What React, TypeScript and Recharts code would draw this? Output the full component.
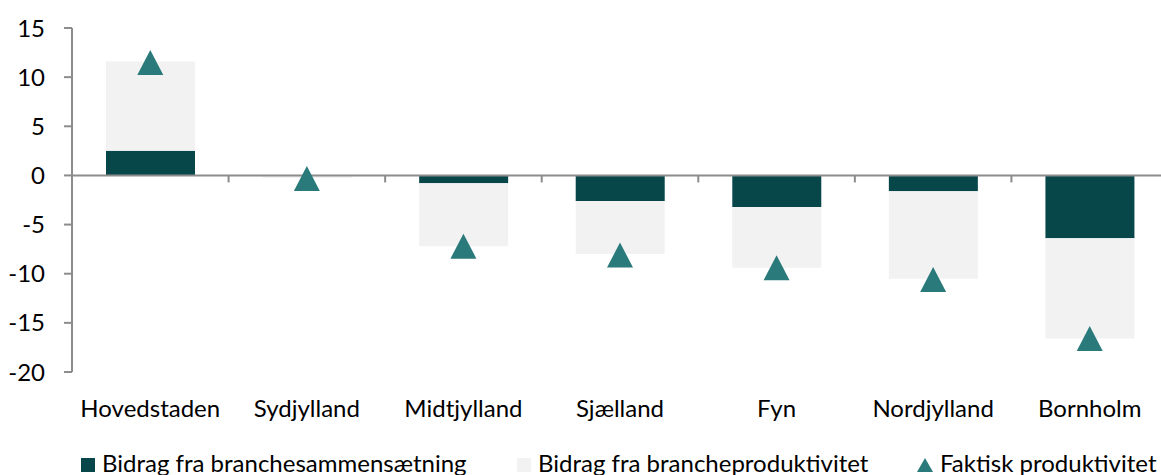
import React from "react";
import {
  Bar,
  ComposedChart,
  Legend,
  Line,
  ReferenceLine,
  XAxis,
  YAxis,
} from "recharts";

const regions = [
  "Hovedstaden",
  "Sydjylland",
  "Midtjylland",
  "Sjælland",
  "Fyn",
  "Nordjylland",
  "Bornholm",
];
const branchesammensaetning = [2.5, -0.05, -0.8, -2.6, -3.2, -1.6, -6.4];
const brancheproduktivitet = [9.1, -0.2, -6.4, -5.4, -6.2, -8.9, -10.2];
const faktisk = [11.5, -0.3, -7.2, -8.1, -9.4, -10.6, -16.6];
const yTicks = [-20, -15, -10, -5, 0, 5, 10, 15];

const seriesNames = {
  sam: "Bidrag fra branchesammensætning",
  prod: "Bidrag fra brancheproduktivitet",
  fak: "Faktisk produktivitet",
};

const DARK = "#07474a";
const LIGHT = "#f2f2f2";
const TEAL = "#2b7a7b";
const AXIS = "#8c8c8c";
const FONT = "Lato, 'Open Sans', sans-serif";

const data = regions.map((region, i) => ({
  region,
  sam: branchesammensaetning[i],
  prod: brancheproduktivitet[i],
  fak: faktisk[i],
}));

function TriangleDot(props: any) {
  const { cx, cy } = props;
  if (cx == null || cy == null) return null;
  const hw = 13;
  const hh = 12.5;
  return (
    <polygon
      key={`tri-${props.index}`}
      points={`${cx},${cy - hh} ${cx + hw},${cy + hh} ${cx - hw},${cy + hh}`}
      fill={TEAL}
    />
  );
}

function XTick(props: any) {
  const { x, y, payload } = props;
  return (
    <text
      x={x}
      y={y}
      dy={45}
      textAnchor="middle"
      fill="#000"
      fontSize={24}
      fontFamily={FONT}
    >
      {payload.value}
    </text>
  );
}

function ZeroLine(props: any) {
  const { x1, x2, y1 } = props;
  const step = (x2 - x1) / regions.length;
  const marks = regions.slice(1).map((_, i) => x1 + step * (i + 1));
  return (
    <g>
      <line x1={x1} x2={x2} y1={y1} y2={y1} stroke={AXIS} strokeWidth={2} />
      {marks.map((mx) => (
        <line key={mx} x1={mx} x2={mx} y1={y1} y2={y1 + 7} stroke={AXIS} strokeWidth={2} />
      ))}
    </g>
  );
}

function LegendContent() {
  const items = [
    { name: seriesNames.sam, left: 81, icon: <span style={{ display: "inline-block", width: 14, height: 14, background: DARK }} /> },
    { name: seriesNames.prod, left: 517, icon: <span style={{ display: "inline-block", width: 14, height: 14, background: LIGHT }} /> },
    {
      name: seriesNames.fak,
      left: 917,
      icon: (
        <svg width={16} height={14} style={{ display: "block" }}>
          <polygon points="8,0 16,14 0,14" fill={TEAL} />
        </svg>
      ),
    },
  ];
  return (
    <div style={{ position: "relative", height: 30, fontFamily: FONT, fontSize: 24, color: "#000" }}>
      {items.map((it) => (
        <div
          key={it.name}
          style={{ position: "absolute", left: it.left, top: 0, height: 30, lineHeight: "30px", display: "flex", alignItems: "center", whiteSpace: "nowrap" }}
        >
          <span style={{ marginRight: 7, marginTop: 4, display: "flex" }}>{it.icon}</span>
          <span>{it.name}</span>
        </div>
      ))}
    </div>
  );
}

export default function App() {
  return (
    <div style={{ position: "fixed", left: 0, top: 0, width: 1161, height: 475, overflow: "hidden", background: "#fff" }}>
      <ComposedChart
        width={1175}
        height={475}
        data={data}
        margin={{ top: 28, right: 7, left: 0, bottom: 0 }}
        barSize={89}
      >
        <XAxis
          dataKey="region"
          axisLine={false}
          tickLine={false}
          tick={<XTick />}
          tickMargin={0}
          tickSize={0}
          height={73}
          interval={0}
        />
        <YAxis
          domain={[-20, 15]}
          ticks={yTicks}
          width={72}
          axisLine={{ stroke: AXIS, strokeWidth: 2 }}
          tickLine={{ stroke: AXIS, strokeWidth: 2 }}
          tickSize={8}
          tickMargin={19}
          tick={{ fill: "#000", fontSize: 24, fontFamily: FONT }}
          interval={0}
        />
        <Legend
          verticalAlign="bottom"
          height={30}
          content={<LegendContent />}
          wrapperStyle={{ top: 448, bottom: "auto", left: 0, width: 1175 }}
        />
        <Bar dataKey="sam" name={seriesNames.sam} stackId="a" fill={DARK} isAnimationActive={false} />
        <Bar dataKey="prod" name={seriesNames.prod} stackId="a" fill={LIGHT} isAnimationActive={false} />
        <ReferenceLine y={0} shape={<ZeroLine />} />
        <Line
          dataKey="fak"
          name={seriesNames.fak}
          stroke="none"
          dot={<TriangleDot />}
          activeDot={false}
          legendType="triangle"
          isAnimationActive={false}
        />
      </ComposedChart>
    </div>
  );
}
